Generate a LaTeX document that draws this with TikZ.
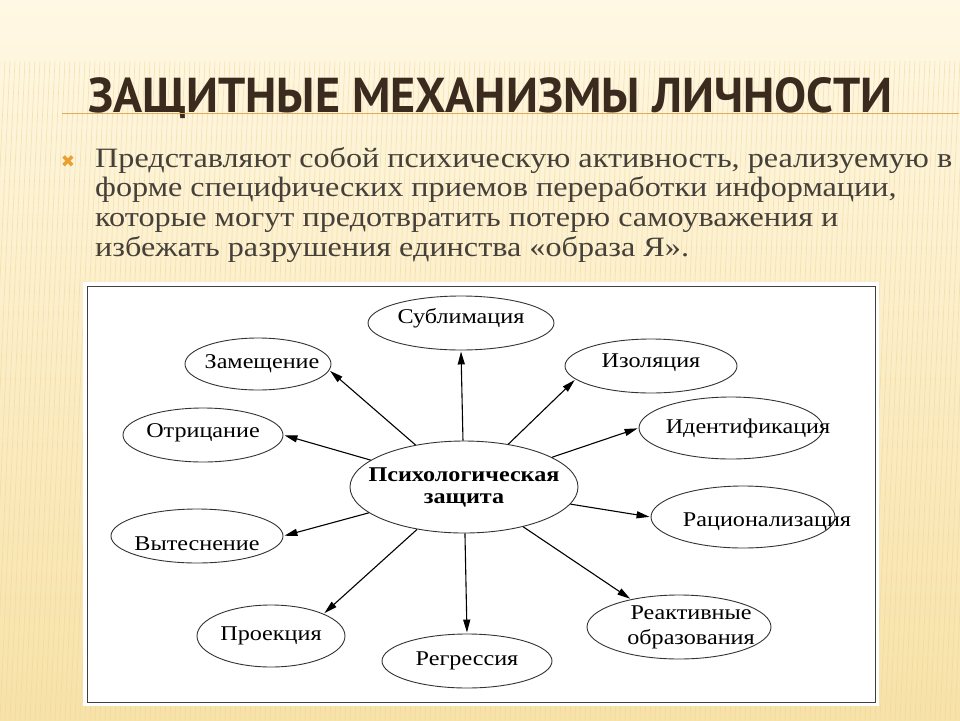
\documentclass[tikz,border=0pt]{standalone}
\usepackage{fontspec}
\setmainfont{Liberation Serif}
\newfontfamily\titlefont[FakeStretch=0.98]{PT Sans}
\newfontfamily\bodyfont[FakeStretch=1.15]{Liberation Serif}
\newfontfamily\diagramfont[FakeStretch=1.15]{Liberation Serif}
\newfontfamily\symbolfont{DejaVu Sans}
\usetikzlibrary{arrows.meta,shapes.geometric}

\definecolor{bgtop}{HTML}{FFF8E4}
\definecolor{bgbottom}{HTML}{F7E2A8}
\definecolor{stripecol}{HTML}{EFD594}
\definecolor{titlebrown}{HTML}{3B2B1E}
\definecolor{rulecol}{HTML}{E2A85C}
\definecolor{bodygray}{HTML}{454039}
\definecolor{bulletorange}{HTML}{E8A030}

\tikzset{
  mechanism/.style={ellipse, draw=black!80, line width=0.9pt, fill=white,
                    inner sep=0pt, label distance=0pt},
  mechtext/.style={align=center, inner sep=0pt,
                   font=\diagramfont\fontsize{21}{25}\selectfont},
  centretext/.style={align=center, inner sep=0pt,
                   font=\diagramfont\bfseries\fontsize{21}{22}\selectfont},
  stripe/.style={stripecol, line width=0.7pt, opacity=0.55}
}

\begin{document}
\begin{tikzpicture}[x=1pt, y=-1pt, shorten >=1pt,
                    >={Triangle[length=13pt,width=7pt]}]
   \useasboundingbox (0,0) rectangle (960,720);

   % background
   \shade[top color=bgtop, bottom color=bgbottom] (0,0) rectangle (960,720);
   \foreach \sx in {-40,-35,...,960}
      \draw[stripe] (\sx,720) -- (\sx+30,60);

   % heading
   \node[anchor=base west, inner sep=0pt, text=titlebrown,
         font=\titlefont\bfseries\fontsize{49}{49}\selectfont] (title) at (88,112)
         {ЗАЩИТНЫЕ МЕХАНИЗМЫ ЛИЧНОСТИ};
   \coordinate (rule_start) at (62,113);
   \coordinate (rule_end) at (960,113);
   \draw[rulecol, line width=1pt] (rule_start) -- (rule_end);

   \node[text=bulletorange, font=\symbolfont\fontsize{17}{17}\selectfont] (bullet) at (68,162) {✖};
   \node[anchor=north west, inner sep=0pt, align=left, text=bodygray,
         font=\bodyfont\fontsize{28}{29.7}\selectfont] (intro) at (95,147)
         {Представляют собой психическую активность, реализуемую в\\
          форме специфических приемов переработки информации,\\
          которые могут предотвратить потерю самоуважения и\\
          избежать разрушения единства «образа Я».};

   % diagram frame
   \fill[white] (83,282) rectangle (879,706);
   \draw[black!75, line width=0.9pt] (87,286) rectangle (875,702);

   \node[mechanism, minimum width=228pt, minimum height=92pt,
         label={[centretext]center:Психологическая\\защита}] (psych_defense) at (464,487) {};

   \node[mechanism, minimum width=186pt, minimum height=54pt,
         label={[mechtext, yshift=5pt]center:Сублимация}] (sublimation) at (461,323) {};
   \node[mechanism, minimum width=146pt, minimum height=52pt,
         label={[mechtext, xshift=4pt]center:Замещение}] (substitution) at (258,364) {};
   \node[mechanism, minimum width=160pt, minimum height=54pt,
         label={[mechtext, yshift=2pt]center:Отрицание}] (denial) at (203,435) {};
   \node[mechanism, minimum width=172pt, minimum height=54pt,
         label={[mechtext, yshift=-8pt]center:Вытеснение}] (repression) at (197,536) {};
   \node[mechanism, minimum width=148pt, minimum height=62pt,
         label={[mechtext]center:Проекция}] (projection) at (271,636) {};
   \node[mechanism, minimum width=170pt, minimum height=54pt,
         label={[mechtext]center:Регрессия}] (regression) at (467,661) {};
   \node[mechanism, minimum width=172pt, minimum height=54pt,
         label={[mechtext, yshift=3pt]center:Изоляция}] (isolation) at (651,366) {};
   \node[mechanism, minimum width=184pt, minimum height=62pt,
         label={[mechtext, xshift=17pt]center:Идентификация}] (identification) at (731,428) {};
   \node[mechanism, minimum width=184pt, minimum height=62pt,
         label={[mechtext, xshift=24pt, yshift=-5pt]center:Рационализация}] (rationalization) at (743,517) {};
   \node[mechanism, minimum width=184pt, minimum height=64pt,
         label={[mechtext, xshift=12pt]center:Реактивные\\образования}] (reaction_formation) at (679,627) {};

   % arrows from the centre
   \path[->, line width=1.1pt]
    (psych_defense) edge (sublimation.south)
                    edge (substitution.-5)
                    edge (denial.east)
                    edge (repression.east)
                    edge (projection.north east)
                    edge (regression.north)
                    edge (isolation.190)
                    edge (identification.west)
                    edge (rationalization.west)
                    edge (reaction_formation.150);
\end{tikzpicture}
\end{document}
